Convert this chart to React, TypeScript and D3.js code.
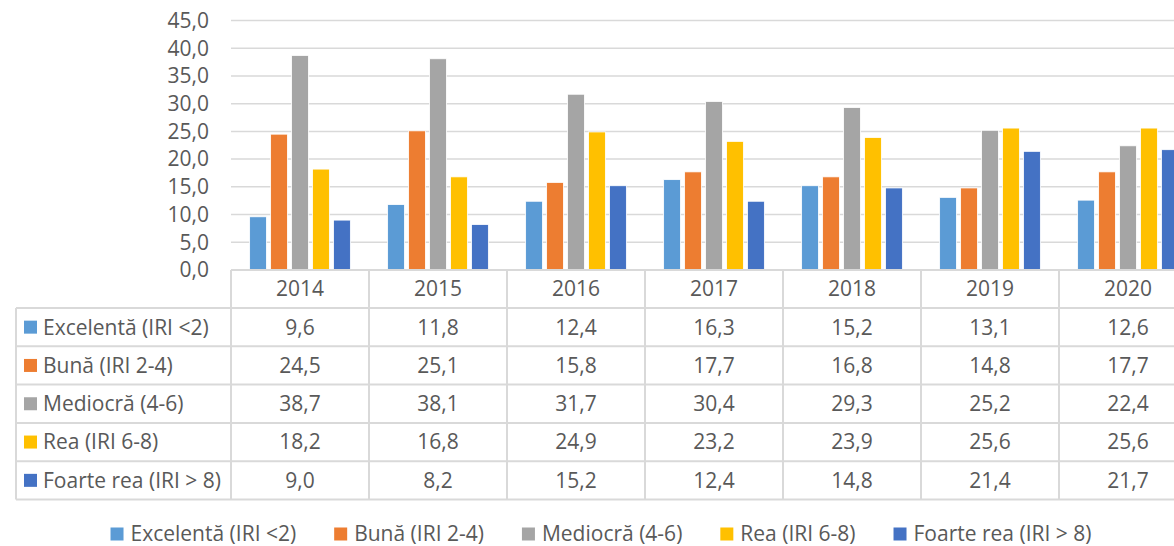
import React, { useEffect, useRef } from 'react';
import * as d3 from 'd3';

const years = ['2014', '2015', '2016', '2017', '2018', '2019', '2020'];
const seriesNames = [
  'Excelentă (IRI <2)',
  'Bună (IRI 2-4)',
  'Mediocră (4-6)',
  'Rea (IRI 6-8)',
  'Foarte rea (IRI > 8)',
];
const excelenta = [9.6, 11.8, 12.4, 16.3, 15.2, 13.1, 12.6];
const buna = [24.5, 25.1, 15.8, 17.7, 16.8, 14.8, 17.7];
const mediocra = [38.7, 38.1, 31.7, 30.4, 29.3, 25.2, 22.4];
const rea = [18.2, 16.8, 24.9, 23.2, 23.9, 25.6, 25.6];
const foarteRea = [9.0, 8.2, 15.2, 12.4, 14.8, 21.4, 21.7];
const colors = ['#5B9BD5', '#ED7D31', '#A5A5A5', '#FFC000', '#4472C4'];
const yTicks = [0, 5, 10, 15, 20, 25, 30, 35, 40, 45];

const allSeries = [excelenta, buna, mediocra, rea, foarteRea];

const fmt = (v: number) => v.toFixed(1).replace('.', ',');

const Chart = () => {
  const ref = useRef<SVGSVGElement>(null);

  useEffect(() => {
    const svg = d3.select(ref.current);
    svg.selectAll('*').remove();

    const left = 231;
    const right = 1197; // plot runs past the picture edge, as in the source
    const top = 20.5;
    const bottom = 270;
    const tableLeft = 16;
    const rowH = 38.3;
    const headerBottom = 308;
    const textColor = '#595959';
    const lineColor = '#D9D9D9';
    const font = '"Open Sans", sans-serif';
    const fontSize = 21;

    const x = d3.scaleBand<string>().domain(years).range([left, right]);
    const y = d3.scaleLinear().domain([0, 45]).range([bottom, top]);
    const bw = x.bandwidth();
    const x1 = d3
      .scaleBand<number>()
      .domain(d3.range(seriesNames.length))
      .range([bw * 0.135, bw * 0.865])
      .paddingInner(0.2);

    const g = svg.append('g').attr('font-family', font).attr('font-size', fontSize);

    // gridlines
    g.selectAll('.grid')
      .data(yTicks.filter(d => d > 0))
      .enter()
      .append('line')
      .attr('x1', left)
      .attr('x2', right)
      .attr('y1', d => y(d))
      .attr('y2', d => y(d))
      .attr('stroke', lineColor)
      .attr('stroke-width', 1.5);

    // y labels
    g.selectAll('.ylab')
      .data(yTicks)
      .enter()
      .append('text')
      .attr('x', 209)
      .attr('y', d => y(d))
      .attr('dy', '0.35em')
      .attr('text-anchor', 'end')
      .attr('fill', textColor)
      .text(d => fmt(d));

    // bars
    allSeries.forEach((values, s) => {
      g.selectAll('.bar-' + s)
        .data(values)
        .enter()
        .append('rect')
        .attr('x', (d, i) => (x(years[i]) as number) + (x1(s) as number))
        .attr('y', d => y(d))
        .attr('width', x1.bandwidth())
        .attr('height', d => y(0) - y(d))
        .attr('fill', colors[s])
        .attr('stroke', '#fff')
        .attr('stroke-width', 0.8);
    });

    // data table
    const tableBottom = headerBottom + rowH * seriesNames.length;
    const hLines = [bottom, ...d3.range(seriesNames.length + 1).map(i => headerBottom + rowH * i)];
    g.selectAll('.hline')
      .data(hLines)
      .enter()
      .append('line')
      .attr('x1', (d, i) => (i === 0 ? left : tableLeft))
      .attr('x2', right)
      .attr('y1', d => d)
      .attr('y2', d => d)
      .attr('stroke', lineColor)
      .attr('stroke-width', 2);
    g.selectAll('.vline')
      .data(years)
      .enter()
      .append('line')
      .attr('x1', d => x(d) as number)
      .attr('x2', d => x(d) as number)
      .attr('y1', bottom)
      .attr('y2', tableBottom)
      .attr('stroke', lineColor)
      .attr('stroke-width', 2);
    g.append('line')
      .attr('x1', tableLeft)
      .attr('x2', tableLeft)
      .attr('y1', headerBottom)
      .attr('y2', tableBottom)
      .attr('stroke', lineColor)
      .attr('stroke-width', 2);

    // header years
    g.selectAll('.year')
      .data(years)
      .enter()
      .append('text')
      .attr('x', d => (x(d) as number) + bw / 2)
      .attr('y', (bottom + headerBottom) / 2)
      .attr('dy', '0.35em')
      .attr('text-anchor', 'middle')
      .attr('fill', textColor)
      .text(d => d);

    seriesNames.forEach((name, s) => {
      const cy = headerBottom + rowH * (s + 0.5);
      g.append('rect')
        .attr('x', 24)
        .attr('y', cy - 6.5)
        .attr('width', 13)
        .attr('height', 13)
        .attr('fill', colors[s]);
      g.append('text')
        .attr('x', 43)
        .attr('y', cy)
        .attr('dy', '0.35em')
        .attr('fill', textColor)
        .text(name);
      g.selectAll('.val-' + s)
        .data(allSeries[s])
        .enter()
        .append('text')
        .attr('x', (d, i) => (x(years[i]) as number) + bw / 2)
        .attr('y', cy)
        .attr('dy', '0.35em')
        .attr('text-anchor', 'middle')
        .attr('fill', textColor)
        .text(d => fmt(d));
    });

    // legend
    const legend = g.append('g');
    const items = legend
      .selectAll('.leg')
      .data(seriesNames)
      .enter()
      .append('g');
    items
      .append('rect')
      .attr('width', 13)
      .attr('height', 13)
      .attr('y', -6.5)
      .attr('fill', (d, i) => colors[i]);
    items
      .append('text')
      .attr('x', 20)
      .attr('dy', '0.35em')
      .attr('fill', textColor)
      .text(d => d);
    let cx = 0;
    items.each(function () {
      const w = 20 + (d3.select(this).select('text').node() as SVGTextElement).getComputedTextLength();
      d3.select(this).attr('transform', 'translate(' + cx + ',0)');
      cx += w + 38;
    });
    const total = cx - 38;
    legend.attr('transform', 'translate(' + (601 - total / 2) + ',534)');
  }, []);

  return (
    <svg
      ref={ref}
      width={1174}
      height={546}
      style={{ position: 'absolute', left: 0, top: 0, background: '#fff' }}
    />
  );
};

export default function App() {
  return <Chart />;
}
